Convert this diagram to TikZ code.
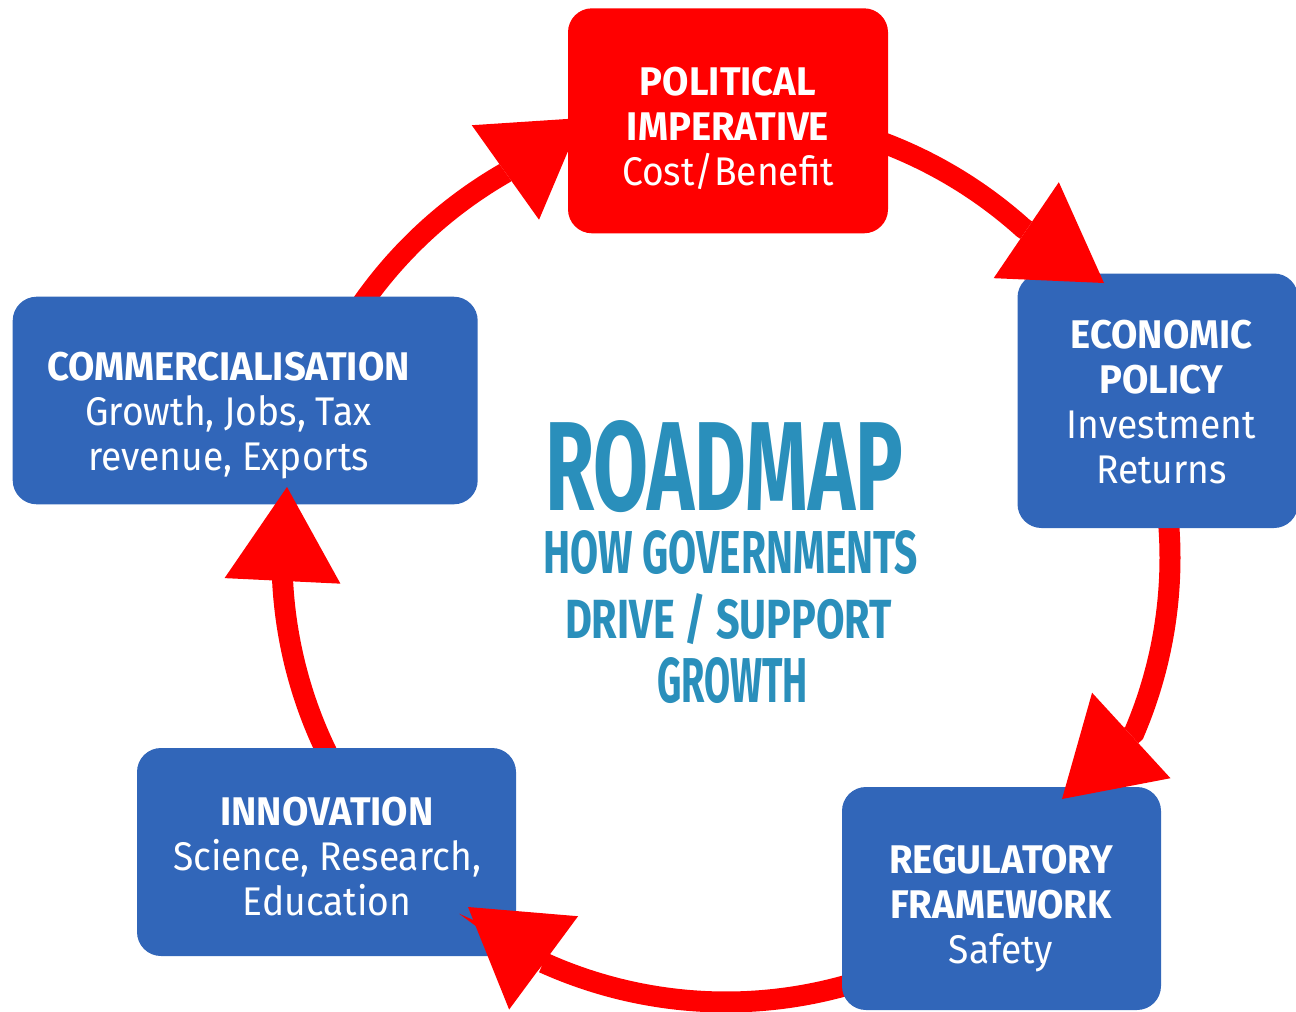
\documentclass[tikz,border=0pt]{standalone}
\usepackage{fontspec}
\usepackage{graphicx}
\usetikzlibrary{arrows.meta}
\newfontfamily\boxfont[FakeStretch=0.93, BoldFeatures={FakeStretch=0.955}]{Fira Sans}
\newfontfamily\ttlfont{Fira Sans}
\definecolor{boxblue}{HTML}{3166B9}
\definecolor{arrred}{HTML}{FF0000}
\definecolor{ttlblue}{HTML}{2A8FBB}
\begin{document}
\begin{tikzpicture}[x=0.5pt,y=-0.5pt,
  box/.style={draw=none, rounded corners=12pt, inner sep=0pt},
  bluebox/.style={box, fill=boxblue},
  redbox/.style={box, fill=arrred},
  boxtext/.style={anchor=north, inner sep=0pt, align=center, text=white,
    font=\boxfont\fontsize{20}{22.5}\selectfont},
  ttl/.style={anchor=base, inner sep=0pt, text depth=0pt, text=ttlblue,
    font=\ttlfont\bfseries\fontsize{40}{40}\selectfont},
  conn/.style={draw=arrred, line width=10.5pt,
    -{Triangle[length=47pt,width=58pt,line width=0pt]}}]
\useasboundingbox (0,0) rectangle (1296,1012);
\def\cx{726}\def\cy{558}\def\rr{444}

% title
\node[ttl] (roadmap) at (724,510) {\resizebox{179pt}{45pt}{ROADMAP}};
\node[ttl] (sub1) at (730.5,573) {\resizebox{187.5pt}{21.5pt}{HOW GOVERNMENTS}};
\node[ttl] (sub2) at (728.5,638) {\resizebox{163.5pt}{22.5pt}{DRIVE / SUPPORT}};
\node[ttl] (sub3) at (732.5,702) {\resizebox{75.5pt}{22.5pt}{GROWTH}};

% arc A: commercialisation -> political
\coordinate (a0) at ({\cx+\rr*cos(-147)},{\cy+\rr*sin(-147)});
\coordinate (atip) at (582,118);
\draw[conn] (a0) arc[start angle=-147,end angle=-120,radius=\rr] -- (atip);

% commercialisation
\node[bluebox, minimum width=232.5pt, minimum height=103.8pt] (comm) at (245.2,400.5) {};
\node[boxtext] (commtext) at (228.5,351.7)
  {\bfseries COMMERCIALISATION\\Growth, Jobs, Tax\\revenue, Exports};

% arc E: innovation -> commercialisation
\coordinate (e0) at ({\cx+\rr*cos(152)},{\cy+\rr*sin(152)});
\coordinate (etip) at (287,487);
\draw[conn] (e0) arc[start angle=152,end angle=177.2,radius=\rr] -- (etip);

% innovation
\node[bluebox, minimum width=189.5pt, minimum height=104pt] (inno) at (326.5,852) {};
\node[boxtext] (innotext) at (327,796.7)
  {\bfseries INNOVATION\\Science, Research,\\Education};

% arc D: regulatory -> innovation
\coordinate (d0) at ({\cx+\rr*cos(72)},{\cy+\rr*sin(72)});
\coordinate (dtip) at (468,907);
\draw[conn] (d0) arc[start angle=72,end angle=114.3,radius=\rr] -- (dtip);

% regulatory
\node[bluebox, minimum width=159.5pt, minimum height=111.5pt] (regu) at (1001.5,898.5) {};
\node[boxtext] (regutext) at (1001,844.3)
  {\bfseries REGULATORY\\\bfseries FRAMEWORK\\Safety};

% arc C: economic -> regulatory
\coordinate (c0) at ({\cx+\rr*cos(-5)},{\cy+\rr*sin(-5)});
\coordinate (ctip) at (1062,799);
\draw[conn] (c0) arc[start angle=-5,end angle=23.2,radius=\rr] -- (ctip);

% economic
\node[bluebox, minimum width=140.25pt, minimum height=127.25pt] (econ) at (1157.75,400.75) {};
\node[boxtext] (econtext) at (1161.5,320)
  {\bfseries ECONOMIC\\\bfseries POLICY\\Investment\\Returns};

% arc B: political -> economic
\coordinate (b0) at ({\cx+\rr*cos(-73)},{\cy+\rr*sin(-73)});
\coordinate (btip) at (1104,283);
\draw[conn] (b0) arc[start angle=-73,end angle=-48,radius=\rr] -- (btip);

% political
\node[redbox, minimum width=160pt, minimum height=112.5pt] (poli) at (728,120.8) {};
\node[boxtext] (politext) at (728,66.7)
  {\bfseries POLITICAL\\\bfseries IMPERATIVE\\Cost/Benefit};
\end{tikzpicture}
\end{document}
